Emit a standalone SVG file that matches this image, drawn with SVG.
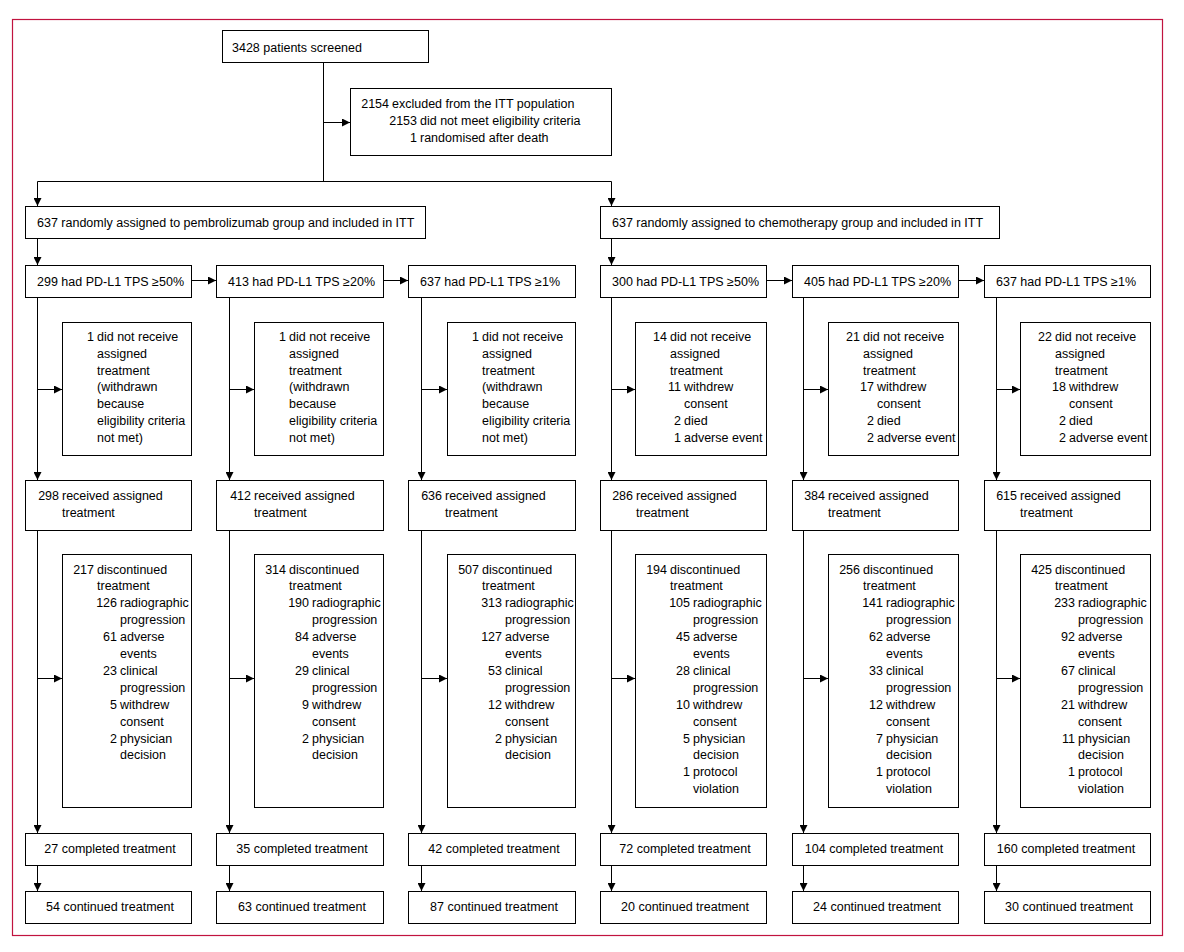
<svg xmlns="http://www.w3.org/2000/svg" width="1184" height="952" viewBox="0 0 1184 952">
<style>
text{font-family:"Liberation Sans",Arial,sans-serif;font-size:12.5px;fill:#000}
.n{text-anchor:end}
.c{text-anchor:middle}
.box{fill:#fff;stroke:#000;stroke-width:1}
.ln{fill:none;stroke:#000;stroke-width:1}
.ar{fill:none;stroke:#000;stroke-width:1;marker-end:url(#ah)}
</style>
<defs>
<marker id="ah" viewBox="0 0 8 8" refX="8" refY="4" markerWidth="8" markerHeight="8" orient="auto" markerUnits="userSpaceOnUse"><path d="M0,0 L8,4 L0,8 z" fill="#000"/></marker>
</defs>
<rect x="0" y="0" width="1184" height="952" fill="#fff"/>
<rect id="frame" x="12.5" y="19.5" width="1150" height="916" fill="none" stroke="#c1133f" stroke-width="1.2"/>

<g id="connectors">
<path class="ln" d="M323.5,63 V181.5 M37.5,181.5 H611.5"/>
<path class="ar" d="M323.5,122.5 H350"/>
<path class="ar" d="M37.5,181.5 V206"/>
<path class="ar" d="M611.5,181.5 V206"/>
<path class="ar" d="M37.5,238 V265"/>
<path class="ar" d="M611.5,238 V265"/>
<path class="ar" d="M191,280.5 H216"/>
<path class="ar" d="M383,280.5 H408"/>
<path class="ar" d="M766,280.5 H792"/>
<path class="ar" d="M958,280.5 H984"/>
<path class="ar" d="M37.5,297 V480"/><path class="ar" d="M37.5,389.5 H62"/>
<path class="ar" d="M37.5,530 V833"/><path class="ar" d="M37.5,678.5 H62"/>
<path class="ar" d="M37.5,866 V891"/>
<path class="ar" d="M229.5,297 V480"/><path class="ar" d="M229.5,389.5 H254"/>
<path class="ar" d="M229.5,530 V833"/><path class="ar" d="M229.5,678.5 H254"/>
<path class="ar" d="M229.5,866 V891"/>
<path class="ar" d="M421.5,297 V480"/><path class="ar" d="M421.5,389.5 H447"/>
<path class="ar" d="M421.5,530 V833"/><path class="ar" d="M421.5,678.5 H447"/>
<path class="ar" d="M421.5,866 V891"/>
<path class="ar" d="M611.5,297 V480"/><path class="ar" d="M611.5,389.5 H635"/>
<path class="ar" d="M611.5,530 V833"/><path class="ar" d="M611.5,678.5 H635"/>
<path class="ar" d="M611.5,866 V891"/>
<path class="ar" d="M803.5,297 V480"/><path class="ar" d="M803.5,389.5 H828"/>
<path class="ar" d="M803.5,530 V833"/><path class="ar" d="M803.5,678.5 H828"/>
<path class="ar" d="M803.5,866 V891"/>
<path class="ar" d="M996.5,297 V480"/><path class="ar" d="M996.5,389.5 H1020"/>
<path class="ar" d="M996.5,530 V833"/><path class="ar" d="M996.5,678.5 H1020"/>
<path class="ar" d="M996.5,866 V891"/>
</g>

<g id="screened"><rect class="box" x="222.5" y="30.5" width="206" height="32"/><text x="232" y="51.5">3428 patients screened</text></g>
<g id="excluded"><rect class="box" x="350.5" y="88.5" width="261" height="67"/>
<text class="n" x="389" y="107.5">2154</text><text x="392" y="107.5">excluded from the ITT population</text>
<text class="n" x="417" y="124.5">2153</text><text x="420" y="124.5">did not meet eligibility criteria</text>
<text class="n" x="417" y="141.5">1</text><text x="420" y="141.5">randomised after death</text></g>

<g id="itt-pembro"><rect class="box" x="25.5" y="206.5" width="400" height="32"/><text x="37" y="226.5">637 randomly assigned to pembrolizumab group and included in ITT</text></g>
<g id="itt-chemo"><rect class="box" x="600.5" y="206.5" width="399" height="32"/><text x="612" y="226.5">637 randomly assigned to chemotherapy group and included in ITT</text></g>

<g id="tps1"><rect class="box" x="25.5" y="265.5" width="166" height="32"/><text x="37" y="285.5">299 had PD-L1 TPS ≥50%</text></g>
<g id="tps2"><rect class="box" x="216.5" y="265.5" width="167" height="32"/><text x="228" y="285.5">413 had PD-L1 TPS ≥20%</text></g>
<g id="tps3"><rect class="box" x="408.5" y="265.5" width="167" height="32"/><text x="420" y="285.5">637 had PD-L1 TPS ≥1%</text></g>
<g id="tps4"><rect class="box" x="600.5" y="265.5" width="166" height="32"/><text x="612" y="285.5">300 had PD-L1 TPS ≥50%</text></g>
<g id="tps5"><rect class="box" x="792.5" y="265.5" width="166" height="32"/><text x="804" y="285.5">405 had PD-L1 TPS ≥20%</text></g>
<g id="tps6"><rect class="box" x="984.5" y="265.5" width="166" height="32"/><text x="996" y="285.5">637 had PD-L1 TPS ≥1%</text></g>

<g id="notrec1"><rect class="box" x="62.5" y="322.5" width="129" height="133"/>
<text class="n" x="94" y="341">1</text><text x="97" y="341">did not receive</text>
<text x="97" y="357.8">assigned</text><text x="97" y="374.6">treatment</text><text x="97" y="391.4">(withdrawn</text>
<text x="97" y="408.2">because</text><text x="97" y="425">eligibility criteria</text><text x="97" y="441.8">not met)</text></g>
<g id="notrec2"><rect class="box" x="254.5" y="322.5" width="129" height="133"/>
<text class="n" x="286" y="341">1</text><text x="289" y="341">did not receive</text>
<text x="289" y="357.8">assigned</text><text x="289" y="374.6">treatment</text><text x="289" y="391.4">(withdrawn</text>
<text x="289" y="408.2">because</text><text x="289" y="425">eligibility criteria</text><text x="289" y="441.8">not met)</text></g>
<g id="notrec3"><rect class="box" x="447.5" y="322.5" width="128" height="133"/>
<text class="n" x="479" y="341">1</text><text x="482" y="341">did not receive</text>
<text x="482" y="357.8">assigned</text><text x="482" y="374.6">treatment</text><text x="482" y="391.4">(withdrawn</text>
<text x="482" y="408.2">because</text><text x="482" y="425">eligibility criteria</text><text x="482" y="441.8">not met)</text></g>
<g id="notrec4"><rect class="box" x="635.5" y="322.5" width="131" height="133"/>
<text class="n" x="667" y="341">14</text><text x="670" y="341">did not receive</text>
<text x="670" y="357.8">assigned</text><text x="670" y="374.6">treatment</text>
<text class="n" x="681" y="391.4">11</text><text x="684" y="391.4">withdrew</text><text x="684" y="408.2">consent</text>
<text class="n" x="681" y="425">2</text><text x="684" y="425">died</text>
<text class="n" x="681" y="441.8">1</text><text x="684" y="441.8">adverse event</text></g>
<g id="notrec5"><rect class="box" x="828.5" y="322.5" width="130" height="133"/>
<text class="n" x="860" y="341">21</text><text x="863" y="341">did not receive</text>
<text x="863" y="357.8">assigned</text><text x="863" y="374.6">treatment</text>
<text class="n" x="874" y="391.4">17</text><text x="877" y="391.4">withdrew</text><text x="877" y="408.2">consent</text>
<text class="n" x="874" y="425">2</text><text x="877" y="425">died</text>
<text class="n" x="874" y="441.8">2</text><text x="877" y="441.8">adverse event</text></g>
<g id="notrec6"><rect class="box" x="1020.5" y="322.5" width="130" height="133"/>
<text class="n" x="1052" y="341">22</text><text x="1055" y="341">did not receive</text>
<text x="1055" y="357.8">assigned</text><text x="1055" y="374.6">treatment</text>
<text class="n" x="1066" y="391.4">18</text><text x="1069" y="391.4">withdrew</text><text x="1069" y="408.2">consent</text>
<text class="n" x="1066" y="425">2</text><text x="1069" y="425">died</text>
<text class="n" x="1066" y="441.8">2</text><text x="1069" y="441.8">adverse event</text></g>

<g id="rec1"><rect class="box" x="25.5" y="480.5" width="166" height="50"/><text class="n" x="59" y="499.5">298</text><text x="62" y="499.5">received assigned</text><text x="62" y="516.5">treatment</text></g>
<g id="rec2"><rect class="box" x="216.5" y="480.5" width="167" height="50"/><text class="n" x="251" y="499.5">412</text><text x="254" y="499.5">received assigned</text><text x="254" y="516.5">treatment</text></g>
<g id="rec3"><rect class="box" x="408.5" y="480.5" width="167" height="50"/><text class="n" x="442" y="499.5">636</text><text x="445" y="499.5">received assigned</text><text x="445" y="516.5">treatment</text></g>
<g id="rec4"><rect class="box" x="600.5" y="480.5" width="166" height="50"/><text class="n" x="633" y="499.5">286</text><text x="636" y="499.5">received assigned</text><text x="636" y="516.5">treatment</text></g>
<g id="rec5"><rect class="box" x="792.5" y="480.5" width="166" height="50"/><text class="n" x="825" y="499.5">384</text><text x="828" y="499.5">received assigned</text><text x="828" y="516.5">treatment</text></g>
<g id="rec6"><rect class="box" x="984.5" y="480.5" width="166" height="50"/><text class="n" x="1017" y="499.5">615</text><text x="1020" y="499.5">received assigned</text><text x="1020" y="516.5">treatment</text></g>

<g id="disc1"><rect class="box" x="62.5" y="554.5" width="129" height="253"/>
<text class="n" x="94" y="573.5">217</text><text x="97" y="573.5">discontinued</text><text x="97" y="590.4">treatment</text>
<text class="n" x="117" y="607.3">126</text><text x="120" y="607.3">radiographic</text><text x="120" y="624.2">progression</text>
<text class="n" x="117" y="641.1">61</text><text x="120" y="641.1">adverse</text><text x="120" y="658">events</text>
<text class="n" x="117" y="674.9">23</text><text x="120" y="674.9">clinical</text><text x="120" y="691.8">progression</text>
<text class="n" x="117" y="708.7">5</text><text x="120" y="708.7">withdrew</text><text x="120" y="725.6">consent</text>
<text class="n" x="117" y="742.5">2</text><text x="120" y="742.5">physician</text><text x="120" y="759.4">decision</text></g>
<g id="disc2"><rect class="box" x="254.5" y="554.5" width="129" height="253"/>
<text class="n" x="286" y="573.5">314</text><text x="289" y="573.5">discontinued</text><text x="289" y="590.4">treatment</text>
<text class="n" x="309" y="607.3">190</text><text x="312" y="607.3">radiographic</text><text x="312" y="624.2">progression</text>
<text class="n" x="309" y="641.1">84</text><text x="312" y="641.1">adverse</text><text x="312" y="658">events</text>
<text class="n" x="309" y="674.9">29</text><text x="312" y="674.9">clinical</text><text x="312" y="691.8">progression</text>
<text class="n" x="309" y="708.7">9</text><text x="312" y="708.7">withdrew</text><text x="312" y="725.6">consent</text>
<text class="n" x="309" y="742.5">2</text><text x="312" y="742.5">physician</text><text x="312" y="759.4">decision</text></g>
<g id="disc3"><rect class="box" x="447.5" y="554.5" width="128" height="253"/>
<text class="n" x="479" y="573.5">507</text><text x="482" y="573.5">discontinued</text><text x="482" y="590.4">treatment</text>
<text class="n" x="502" y="607.3">313</text><text x="505" y="607.3">radiographic</text><text x="505" y="624.2">progression</text>
<text class="n" x="502" y="641.1">127</text><text x="505" y="641.1">adverse</text><text x="505" y="658">events</text>
<text class="n" x="502" y="674.9">53</text><text x="505" y="674.9">clinical</text><text x="505" y="691.8">progression</text>
<text class="n" x="502" y="708.7">12</text><text x="505" y="708.7">withdrew</text><text x="505" y="725.6">consent</text>
<text class="n" x="502" y="742.5">2</text><text x="505" y="742.5">physician</text><text x="505" y="759.4">decision</text></g>
<g id="disc4"><rect class="box" x="635.5" y="554.5" width="131" height="253"/>
<text class="n" x="667" y="573.5">194</text><text x="670" y="573.5">discontinued</text><text x="670" y="590.4">treatment</text>
<text class="n" x="690" y="607.3">105</text><text x="693" y="607.3">radiographic</text><text x="693" y="624.2">progression</text>
<text class="n" x="690" y="641.1">45</text><text x="693" y="641.1">adverse</text><text x="693" y="658">events</text>
<text class="n" x="690" y="674.9">28</text><text x="693" y="674.9">clinical</text><text x="693" y="691.8">progression</text>
<text class="n" x="690" y="708.7">10</text><text x="693" y="708.7">withdrew</text><text x="693" y="725.6">consent</text>
<text class="n" x="690" y="742.5">5</text><text x="693" y="742.5">physician</text><text x="693" y="759.4">decision</text>
<text class="n" x="690" y="776.3">1</text><text x="693" y="776.3">protocol</text><text x="693" y="793.2">violation</text></g>
<g id="disc5"><rect class="box" x="828.5" y="554.5" width="130" height="253"/>
<text class="n" x="860" y="573.5">256</text><text x="863" y="573.5">discontinued</text><text x="863" y="590.4">treatment</text>
<text class="n" x="883" y="607.3">141</text><text x="886" y="607.3">radiographic</text><text x="886" y="624.2">progression</text>
<text class="n" x="883" y="641.1">62</text><text x="886" y="641.1">adverse</text><text x="886" y="658">events</text>
<text class="n" x="883" y="674.9">33</text><text x="886" y="674.9">clinical</text><text x="886" y="691.8">progression</text>
<text class="n" x="883" y="708.7">12</text><text x="886" y="708.7">withdrew</text><text x="886" y="725.6">consent</text>
<text class="n" x="883" y="742.5">7</text><text x="886" y="742.5">physician</text><text x="886" y="759.4">decision</text>
<text class="n" x="883" y="776.3">1</text><text x="886" y="776.3">protocol</text><text x="886" y="793.2">violation</text></g>
<g id="disc6"><rect class="box" x="1020.5" y="554.5" width="130" height="253"/>
<text class="n" x="1052" y="573.5">425</text><text x="1055" y="573.5">discontinued</text><text x="1055" y="590.4">treatment</text>
<text class="n" x="1075" y="607.3">233</text><text x="1078" y="607.3">radiographic</text><text x="1078" y="624.2">progression</text>
<text class="n" x="1075" y="641.1">92</text><text x="1078" y="641.1">adverse</text><text x="1078" y="658">events</text>
<text class="n" x="1075" y="674.9">67</text><text x="1078" y="674.9">clinical</text><text x="1078" y="691.8">progression</text>
<text class="n" x="1075" y="708.7">21</text><text x="1078" y="708.7">withdrew</text><text x="1078" y="725.6">consent</text>
<text class="n" x="1075" y="742.5">11</text><text x="1078" y="742.5">physician</text><text x="1078" y="759.4">decision</text>
<text class="n" x="1075" y="776.3">1</text><text x="1078" y="776.3">protocol</text><text x="1078" y="793.2">violation</text></g>

<g id="comp1"><rect class="box" x="25.5" y="833.5" width="166" height="32"/><text class="c" x="110" y="853">27 completed treatment</text></g>
<g id="comp2"><rect class="box" x="216.5" y="833.5" width="167" height="32"/><text class="c" x="302" y="853">35 completed treatment</text></g>
<g id="comp3"><rect class="box" x="408.5" y="833.5" width="167" height="32"/><text class="c" x="494" y="853">42 completed treatment</text></g>
<g id="comp4"><rect class="box" x="600.5" y="833.5" width="166" height="32"/><text class="c" x="685" y="853">72 completed treatment</text></g>
<g id="comp5"><rect class="box" x="792.5" y="833.5" width="166" height="32"/><text class="c" x="874" y="853">104 completed treatment</text></g>
<g id="comp6"><rect class="box" x="984.5" y="833.5" width="166" height="32"/><text class="c" x="1066" y="853">160 completed treatment</text></g>

<g id="cont1"><rect class="box" x="25.5" y="891.5" width="166" height="32"/><text class="c" x="110" y="911">54 continued treatment</text></g>
<g id="cont2"><rect class="box" x="216.5" y="891.5" width="167" height="32"/><text class="c" x="302" y="911">63 continued treatment</text></g>
<g id="cont3"><rect class="box" x="408.5" y="891.5" width="167" height="32"/><text class="c" x="494" y="911">87 continued treatment</text></g>
<g id="cont4"><rect class="box" x="600.5" y="891.5" width="166" height="32"/><text class="c" x="685" y="911">20 continued treatment</text></g>
<g id="cont5"><rect class="box" x="792.5" y="891.5" width="166" height="32"/><text class="c" x="877" y="911">24 continued treatment</text></g>
<g id="cont6"><rect class="box" x="984.5" y="891.5" width="166" height="32"/><text class="c" x="1069" y="911">30 continued treatment</text></g>
</svg>
